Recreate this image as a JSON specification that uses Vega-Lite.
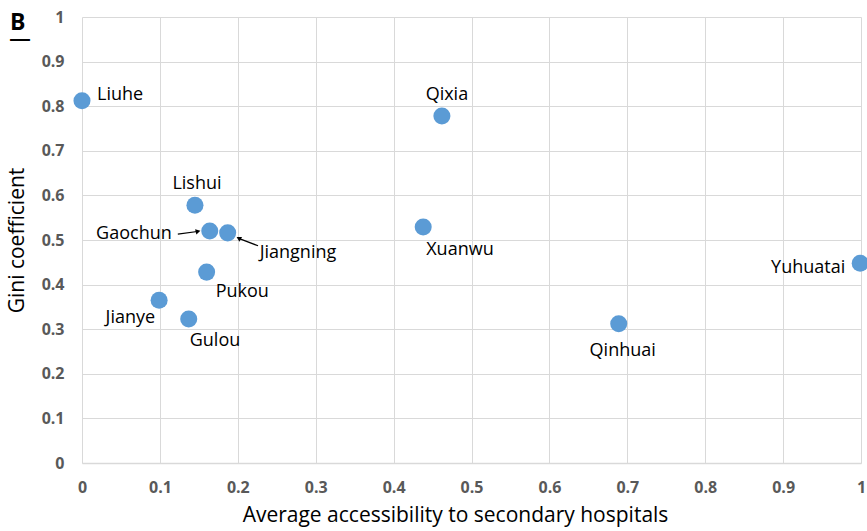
{
  "$schema": "https://vega.github.io/schema/vega-lite/v6.json",
  "autosize": "none",
  "width": 779,
  "height": 446,
  "padding": {"left": 82, "top": 17, "right": 6, "bottom": 68},
  "background": "white",
  "config": {
    "view": {"stroke": null},
    "font": "Open Sans"
  },
  "title": {
    "text": "B",
    "anchor": "start",
    "frame": "group",
    "dx": -72,
    "offset": -40,
    "fontSize": 23,
    "font": "Open Sans",
    "fontWeight": "bold",
    "color": "#000000",
    "subtitle": "—",
    "subtitleFont": "Liberation Sans",
    "subtitleFontSize": 20,
    "subtitleFontWeight": "bold",
    "subtitleColor": "#000000",
    "subtitlePadding": -6
  },
  "datasets": {
    "points": [
      {"district": "Liuhe", "acc": 0.0, "gini": 0.812},
      {"district": "Qixia", "acc": 0.462, "gini": 0.778},
      {"district": "Lishui", "acc": 0.145, "gini": 0.578},
      {"district": "Gaochun", "acc": 0.164, "gini": 0.52},
      {"district": "Jiangning", "acc": 0.187, "gini": 0.516},
      {"district": "Xuanwu", "acc": 0.438, "gini": 0.529},
      {"district": "Yuhuatai", "acc": 0.999, "gini": 0.448},
      {"district": "Pukou", "acc": 0.16, "gini": 0.428},
      {"district": "Jianye", "acc": 0.099, "gini": 0.365},
      {"district": "Gulou", "acc": 0.137, "gini": 0.323},
      {"district": "Qinhuai", "acc": 0.689, "gini": 0.312}
    ],
    "arrows": [
      {"label": "Gaochun", "x1": 0.123, "y1": 0.513, "x2": 0.148, "y2": 0.519, "angle": 76},
      {"label": "Jiangning", "x1": 0.226, "y1": 0.487, "x2": 0.202, "y2": 0.503, "angle": 300}
    ]
  },
  "layer": [
    {
      "data": {"name": "points"},
      "mark": {"type": "point", "filled": true, "size": 290, "color": "#5b9bd5", "opacity": 1},
      "encoding": {
        "x": {
          "field": "acc", "type": "quantitative",
          "scale": {"domain": [0, 1], "nice": false, "zero": true},
          "axis": {
            "title": "Average accessibility to secondary hospitals",
            "values": [0, 0.1, 0.2, 0.3, 0.4, 0.5, 0.6, 0.7, 0.8, 0.9, 1],
            "format": "~g",
            "grid": true, "gridColor": "#d9d9d9", "gridWidth": 1,
            "domain": true, "domainColor": "#d9d9d9", "domainWidth": 1.5,
            "ticks": false, "labelPadding": 16,
            "labelFont": "Open Sans", "labelFontSize": 16, "labelFontWeight": "bold", "labelColor": "#595959",
            "labelFlush": false,
            "titleFont": "Open Sans", "titleFontSize": 21, "titleFontWeight": "normal", "titleColor": "#000000",
            "titlePadding": 9, "titleX": 373
          }
        },
        "y": {
          "field": "gini", "type": "quantitative",
          "scale": {"domain": [0, 1], "nice": false},
          "axis": {
            "title": "Gini coefficient",
            "values": [0, 0.1, 0.2, 0.3, 0.4, 0.5, 0.6, 0.7, 0.8, 0.9, 1],
            "format": "~g",
            "grid": true, "gridColor": "#d9d9d9", "gridWidth": 1,
            "domain": false,
            "ticks": false, "labelPadding": 18,
            "labelFont": "Open Sans", "labelFontSize": 16, "labelFontWeight": "bold", "labelColor": "#595959",
            "labelFlush": false,
            "titleFont": "Open Sans", "titleFontSize": 21, "titleFontWeight": "normal", "titleColor": "#000000",
            "titlePadding": 14
          }
        }
      }
    },
    {
      "data": {"name": "arrows"},
      "mark": {"type": "rule", "color": "#000000", "strokeWidth": 1.2},
      "encoding": {
        "x": {"field": "x1", "type": "quantitative"},
        "y": {"field": "y1", "type": "quantitative"},
        "x2": {"field": "x2"},
        "y2": {"field": "y2"}
      }
    },
    {
      "data": {"name": "arrows"},
      "mark": {"type": "point", "shape": "triangle", "filled": true, "size": 30, "color": "#000000", "opacity": 1},
      "encoding": {
        "x": {"field": "x2", "type": "quantitative"},
        "y": {"field": "y2", "type": "quantitative"},
        "angle": {"field": "angle", "type": "quantitative", "scale": null}
      }
    },
    {
      "data": {"name": "points"},
      "transform": [{"filter": "datum.district === 'Liuhe'"}],
      "mark": {"type": "text", "align": "left", "baseline": "middle", "dx": 15, "dy": -6, "fontSize": 18, "font": "Open Sans", "color": "#000000"},
      "encoding": {"x": {"field": "acc", "type": "quantitative"}, "y": {"field": "gini", "type": "quantitative"}, "text": {"field": "district"}}
    },
    {
      "data": {"name": "points"},
      "transform": [{"filter": "datum.district === 'Qixia'"}],
      "mark": {"type": "text", "align": "center", "baseline": "middle", "dx": 5, "dy": -21, "fontSize": 18, "font": "Open Sans", "color": "#000000"},
      "encoding": {"x": {"field": "acc", "type": "quantitative"}, "y": {"field": "gini", "type": "quantitative"}, "text": {"field": "district"}}
    },
    {
      "data": {"name": "points"},
      "transform": [{"filter": "datum.district === 'Lishui'"}],
      "mark": {"type": "text", "align": "center", "baseline": "middle", "dx": 2, "dy": -21, "fontSize": 18, "font": "Open Sans", "color": "#000000"},
      "encoding": {"x": {"field": "acc", "type": "quantitative"}, "y": {"field": "gini", "type": "quantitative"}, "text": {"field": "district"}}
    },
    {
      "data": {"name": "points"},
      "transform": [{"filter": "datum.district === 'Gaochun'"}],
      "mark": {"type": "text", "align": "right", "baseline": "middle", "dx": -38, "dy": 3, "fontSize": 18, "font": "Open Sans", "color": "#000000"},
      "encoding": {"x": {"field": "acc", "type": "quantitative"}, "y": {"field": "gini", "type": "quantitative"}, "text": {"field": "district"}}
    },
    {
      "data": {"name": "points"},
      "transform": [{"filter": "datum.district === 'Jiangning'"}],
      "mark": {"type": "text", "align": "left", "baseline": "middle", "dx": 32, "dy": 20, "fontSize": 18, "font": "Open Sans", "color": "#000000"},
      "encoding": {"x": {"field": "acc", "type": "quantitative"}, "y": {"field": "gini", "type": "quantitative"}, "text": {"field": "district"}}
    },
    {
      "data": {"name": "points"},
      "transform": [{"filter": "datum.district === 'Xuanwu'"}],
      "mark": {"type": "text", "align": "left", "baseline": "middle", "dx": 3, "dy": 23, "fontSize": 18, "font": "Open Sans", "color": "#000000"},
      "encoding": {"x": {"field": "acc", "type": "quantitative"}, "y": {"field": "gini", "type": "quantitative"}, "text": {"field": "district"}}
    },
    {
      "data": {"name": "points"},
      "transform": [{"filter": "datum.district === 'Yuhuatai'"}],
      "mark": {"type": "text", "align": "right", "baseline": "middle", "dx": -15, "dy": 5, "fontSize": 18, "font": "Open Sans", "color": "#000000"},
      "encoding": {"x": {"field": "acc", "type": "quantitative"}, "y": {"field": "gini", "type": "quantitative"}, "text": {"field": "district"}}
    },
    {
      "data": {"name": "points"},
      "transform": [{"filter": "datum.district === 'Pukou'"}],
      "mark": {"type": "text", "align": "left", "baseline": "middle", "dx": 9, "dy": 20, "fontSize": 18, "font": "Open Sans", "color": "#000000"},
      "encoding": {"x": {"field": "acc", "type": "quantitative"}, "y": {"field": "gini", "type": "quantitative"}, "text": {"field": "district"}}
    },
    {
      "data": {"name": "points"},
      "transform": [{"filter": "datum.district === 'Jianye'"}],
      "mark": {"type": "text", "align": "right", "baseline": "middle", "dx": -4, "dy": 18, "fontSize": 18, "font": "Open Sans", "color": "#000000"},
      "encoding": {"x": {"field": "acc", "type": "quantitative"}, "y": {"field": "gini", "type": "quantitative"}, "text": {"field": "district"}}
    },
    {
      "data": {"name": "points"},
      "transform": [{"filter": "datum.district === 'Gulou'"}],
      "mark": {"type": "text", "align": "left", "baseline": "middle", "dx": 1, "dy": 22, "fontSize": 18, "font": "Open Sans", "color": "#000000"},
      "encoding": {"x": {"field": "acc", "type": "quantitative"}, "y": {"field": "gini", "type": "quantitative"}, "text": {"field": "district"}}
    },
    {
      "data": {"name": "points"},
      "transform": [{"filter": "datum.district === 'Qinhuai'"}],
      "mark": {"type": "text", "align": "center", "baseline": "middle", "dx": 4, "dy": 27, "fontSize": 18, "font": "Open Sans", "color": "#000000"},
      "encoding": {"x": {"field": "acc", "type": "quantitative"}, "y": {"field": "gini", "type": "quantitative"}, "text": {"field": "district"}}
    }
  ]
}
